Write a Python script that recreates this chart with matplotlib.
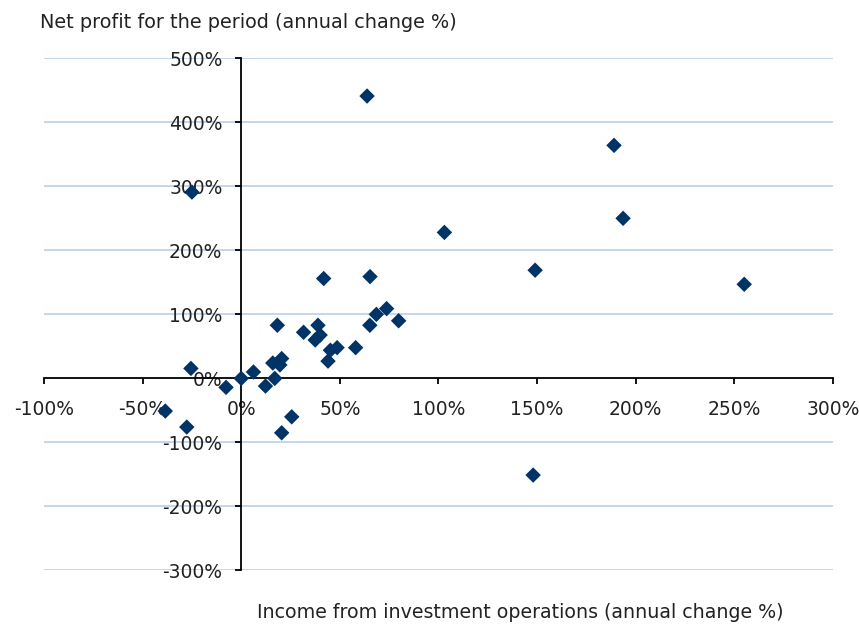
import numpy as np
import matplotlib
matplotlib.use("Agg")
import matplotlib.pyplot as plt
from matplotlib.ticker import FuncFormatter

# income from investment operations (annual change %)
income_change = [63.8, 189, 193.6, 103, 149, 255, -25, 148, -38.5, -27.6, 20.5, 25.6,
                 -25.5, -7.7, 0, 6.2, 12.3, 17, 16, 20.5, 19.6, 18.3,
                 31.6, 38.9, 37.5, 40, 41.8, 45.2, 48.6, 44, 58,
                 65.3, 65.2, 68.5, 73.7, 79.8]
# net profit for the period (annual change %)
profit_change = [441, 364, 250, 228, 169, 147, 291, -151, -51, -76, -85, -60,
                 15.6, -14, 0, 10, -12, 0, 24, 31, 21, 83,
                 72, 83, 60, 67.7, 156, 44, 48, 27, 48,
                 159, 83, 100, 109, 90]

x_ticks = np.arange(-100, 301, 50)
y_ticks = np.arange(-300, 501, 100)

FS = 13.5

fig = plt.figure(figsize=(8.59, 6.26), dpi=100)
ax = fig.add_axes([0.0512, 0.0887, 0.9185, 0.8182])

ax.scatter(income_change, profit_change, marker='D', s=62, color='#003366',
           edgecolors='none', zorder=3)

ax.set_xlim(-100, 300)
ax.set_ylim(-300, 500)
ax.set_xticks(x_ticks)
ax.set_yticks(y_ticks)
pct = FuncFormatter(lambda v, pos: f"{v:.0f}%")
ax.xaxis.set_major_formatter(pct)
ax.yaxis.set_major_formatter(pct)

for y in y_ticks:
    if y != 0:
        ax.axhline(y, color='#C0D3EC', linewidth=1.3, zorder=0)

ax.spines['left'].set_position(('data', 0))
ax.spines['bottom'].set_position(('data', 0))
ax.spines['top'].set_visible(False)
ax.spines['right'].set_visible(False)
ax.spines['left'].set_linewidth(1.3)
ax.spines['bottom'].set_linewidth(1.3)
ax.tick_params(axis='both', direction='out', length=4.5, width=1.3,
               labelsize=FS, colors='black')
ax.tick_params(axis='y', pad=9)
ax.tick_params(axis='x', pad=11)
for lbl in ax.get_xticklabels() + ax.get_yticklabels():
    lbl.set_color('#222222')

# axis titles placed like the spreadsheet original
fig.text(0.046, 0.964, "Net profit for the period (annual change %)",
         fontsize=13.9, ha='left', va='center', color='#222222')
fig.text(0.299, 0.022, "Income from investment operations (annual change %)",
         fontsize=13.7, ha='left', va='center', color='#222222')

fig.savefig("out.png", dpi=100)
